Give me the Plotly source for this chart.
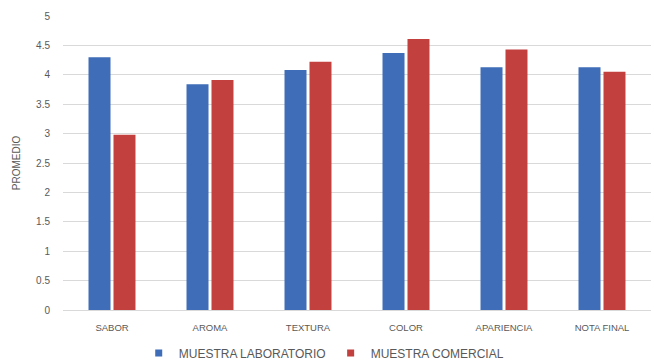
import plotly.graph_objects as go

categories = ["SABOR", "AROMA", "TEXTURA", "COLOR", "APARIENCIA", "NOTA FINAL"]
laboratorio = [4.30, 3.84, 4.08, 4.37, 4.13, 4.13]
comercial = [2.98, 3.91, 4.22, 4.61, 4.43, 4.05]
y_ticks = [0, 0.5, 1, 1.5, 2, 2.5, 3, 3.5, 4, 4.5, 5]
y_tick_text = ["0", "0.5", "1", "1.5", "2", "2.5", "3", "3.5", "4", "4.5", "5"]

series = [("MUESTRA LABORATORIO", laboratorio, "#3F6DB8"),
          ("MUESTRA COMERCIAL", comercial, "#C2403E")]

fig = go.Figure()
for name, values, color in series:
    fig.add_trace(go.Bar(x=categories, y=values, name=name, showlegend=False,
                         marker=dict(color=color, line=dict(width=0))))
# small square legend keys
for name, values, color in series:
    fig.add_trace(go.Scatter(x=[None], y=[None], mode="markers", name=name,
                             marker=dict(symbol="square", size=7, color=color)))

fig.update_layout(
    width=654, height=364,
    margin=dict(l=63, r=3, t=16, b=54),
    paper_bgcolor="white", plot_bgcolor="white",
    barmode="group", bargap=0.49, bargroupgap=0.12,
    font=dict(family="Liberation Sans, Arial, sans-serif", size=10, color="#595959"),
    showlegend=True,
    legend=dict(orientation="h", x=0.495, xref="container", xanchor="center",
                y=11 / 364, yref="container", yanchor="middle",
                font=dict(size=12, color="#595959"), traceorder="normal",
                itemwidth=30, tracegroupgap=0),
    xaxis=dict(showgrid=False, showline=False, ticks="", tickfont=dict(size=9.5),
               ticklabelstandoff=10),
    yaxis=dict(range=[0, 5], tickvals=y_ticks, ticktext=y_tick_text,
               showgrid=True, gridcolor="#D9D9D9", gridwidth=1,
               zeroline=True, zerolinecolor="#D9D9D9", zerolinewidth=1,
               showline=False, ticks="", ticklabelstandoff=12,
               tickfont=dict(size=10),
               title=dict(text="PROMEDIO", font=dict(size=10, color="#595959"), standoff=13)),
)

fig.write_html("out.html")
